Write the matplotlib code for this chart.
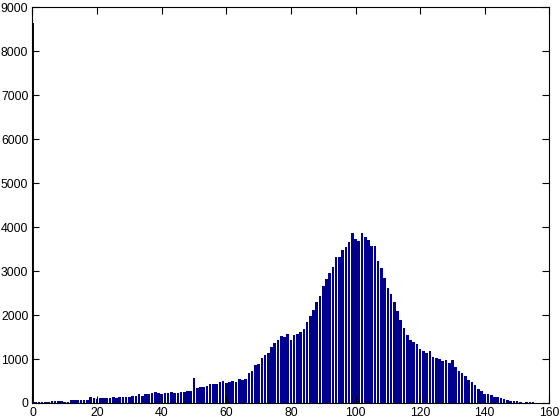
import numpy as np
import matplotlib
matplotlib.use('Agg')
import matplotlib.pyplot as plt

# histogram counts, one per integer bin 0..155
counts_0_29 = [8640, 23, 23, 23, 15, 30, 45, 35, 45, 45,
               30, 25, 68, 68, 68, 68, 68, 70, 136, 113,
               90, 113, 113, 113, 120, 136, 113, 136, 136, 136]
counts_30_59 = [136, 159, 159, 204, 170, 204, 204, 227, 250, 227,
                204, 227, 227, 250, 227, 227, 240, 250, 272, 272,
                568, 330, 363, 363, 386, 431, 431, 431, 477, 499]
counts_60_89 = [454, 470, 499, 477, 545, 523, 545, 681, 726, 863,
                885, 1022, 1090, 1135, 1271, 1362, 1430, 1521, 1491, 1566,
                1430, 1544, 1566, 1612, 1680, 1839, 1975, 2111, 2293, 2429]
counts_90_119 = [2656, 2815, 2951, 3087, 3314, 3314, 3473, 3541, 3655, 3859,
                 3723, 3677, 3859, 3768, 3700, 3564, 3564, 3223, 3064, 2838,
                 2611, 2474, 2293, 2088, 1884, 1703, 1544, 1430, 1385, 1339]
counts_120_155 = [1226, 1180, 1135, 1180, 1044, 1030, 999, 953, 976, 908,
                  976, 817, 726, 681, 613, 522, 477, 409, 318, 272,
                  204, 204, 190, 136, 136, 113, 91, 68, 45, 45,
                  45, 23, 0, 23, 23, 23]

counts = counts_0_29 + counts_30_59 + counts_60_89 + counts_90_119 + counts_120_155
bins = np.arange(len(counts))

xticks = [0, 20, 40, 60, 80, 100, 120, 140, 160]
yticks = [0, 1000, 2000, 3000, 4000, 5000, 6000, 7000, 8000, 9000]

plt.rcParams['font.family'] = ['Liberation Sans', 'DejaVu Sans']
plt.rcParams['font.size'] = 8.8

fig = plt.figure(figsize=(5.6, 4.2), dpi=100)
ax = fig.add_axes([0.058, 0.0405, 0.923, 0.9425])

ax.bar(bins, counts, width=0.8, color='#00008f', linewidth=0)

ax.set_xlim(0, 160)
ax.set_ylim(0, 9000)
ax.set_xticks(xticks)
ax.set_yticks(yticks)
ax.tick_params(direction='in', length=5, width=0.8, top=True, right=True,
               pad=3, colors='black')
for s in ax.spines.values():
    s.set_linewidth(0.8)

fig.savefig('out.png', dpi=100)
